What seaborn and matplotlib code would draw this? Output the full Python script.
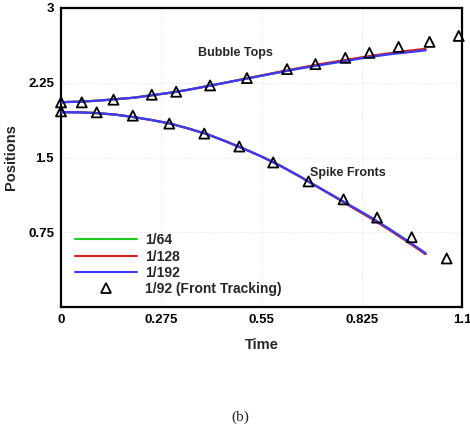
import matplotlib
matplotlib.use("Agg")
import matplotlib.pyplot as plt
from matplotlib.ticker import MultipleLocator, FixedLocator
from matplotlib.lines import Line2D
import numpy as np
import pandas as pd
import seaborn as sns

# ---- data -------------------------------------------------------------
time = [0.0, 0.05, 0.1, 0.15, 0.2, 0.25, 0.3, 0.35, 0.4, 0.45, 0.5,
        0.55, 0.6, 0.65, 0.7, 0.75, 0.8, 0.85, 0.9, 0.95, 1.0]

bubble_192 = [2.055, 2.06, 2.07, 2.085, 2.10, 2.125, 2.15, 2.18, 2.215, 2.25, 2.285,
              2.32, 2.355, 2.39, 2.42, 2.45, 2.48, 2.51, 2.535, 2.555, 2.575]
bubble_128 = [2.055, 2.06, 2.07, 2.085, 2.10, 2.125, 2.15, 2.18, 2.215, 2.25, 2.287,
              2.323, 2.36, 2.395, 2.43, 2.46, 2.49, 2.52, 2.545, 2.57, 2.59]
bubble_64 = [2.055, 2.06, 2.07, 2.085, 2.10, 2.125, 2.15, 2.18, 2.215, 2.25, 2.286,
             2.321, 2.357, 2.392, 2.425, 2.455, 2.485, 2.515, 2.54, 2.562, 2.582]

spike_192 = [1.955, 1.953, 1.945, 1.93, 1.905, 1.875, 1.84, 1.79, 1.735, 1.665, 1.59,
             1.51, 1.42, 1.32, 1.215, 1.11, 1.005, 0.90, 0.785, 0.665, 0.54]
spike_128 = [1.955, 1.953, 1.945, 1.93, 1.905, 1.875, 1.84, 1.79, 1.735, 1.665, 1.59,
             1.51, 1.42, 1.32, 1.213, 1.106, 0.997, 0.89, 0.775, 0.655, 0.53]
spike_64 = [1.955, 1.953, 1.945, 1.93, 1.905, 1.875, 1.84, 1.79, 1.735, 1.665, 1.59,
            1.51, 1.42, 1.32, 1.214, 1.108, 1.0, 0.895, 0.78, 0.66, 0.535]

ft_bubble_time = [0.0, 0.057, 0.144, 0.249, 0.316, 0.409, 0.510, 0.620, 0.698,
                  0.780, 0.846, 0.926, 1.011, 1.091]
ft_bubble_pos = [2.053, 2.053, 2.08, 2.13, 2.16, 2.223, 2.297, 2.387, 2.437,
                 2.50, 2.55, 2.61, 2.66, 2.72]

ft_spike_time = [0.0, 0.098, 0.197, 0.297, 0.393, 0.489, 0.582, 0.679, 0.775,
                 0.867, 0.962, 1.058]
ft_spike_pos = [1.963, 1.953, 1.92, 1.84, 1.74, 1.61, 1.45, 1.26, 1.08,
                0.897, 0.70, 0.487]

resolutions = ["1/64", "1/128", "1/192"]
colors = {"1/64": "#1fcc1f", "1/128": "#d02020", "1/192": "#3a3aff"}
ft_label = "1/92 (Front Tracking)"

x_ticks = [0, 0.275, 0.55, 0.825, 1.1]
x_tick_labels = ["0", "0.275", "0.55", "0.825", "1.1"]
y_ticks = [0.75, 1.5, 2.25, 3]
y_tick_labels = ["0.75", "1.5", "2.25", "3"]

# ---- long-form tables ---------------------------------------------------
bubble = {"1/64": bubble_64, "1/128": bubble_128, "1/192": bubble_192}
spike = {"1/64": spike_64, "1/128": spike_128, "1/192": spike_192}
rows = []
for res in resolutions:
    for front, table in (("bubble", bubble), ("spike", spike)):
        for t, p in zip(time, table[res]):
            rows.append({"Time": t, "Position": p, "Grid": res, "Front": front})
lines_df = pd.DataFrame(rows)

ft_df = pd.DataFrame({
    "Time": ft_bubble_time + ft_spike_time,
    "Position": ft_bubble_pos + ft_spike_pos,
    "Front": ["bubble"] * len(ft_bubble_time) + ["spike"] * len(ft_spike_time),
})

# ---- style --------------------------------------------------------------
sns.set_style("white")
plt.rcParams["font.family"] = ["Liberation Sans", "DejaVu Sans"]
plt.rcParams["font.weight"] = "bold"
plt.rcParams["axes.labelweight"] = "bold"

fig = plt.figure(figsize=(4.7, 4.34), dpi=100)
ax = fig.add_axes([61 / 470, 1 - 307 / 434, 401 / 470, 299 / 434])

# dotted grid at major ticks
for xv in x_ticks[1:-1]:
    ax.axvline(xv, color="#d8d8d8", lw=0.6, ls=(0, (1, 2)), zorder=0)
for yv in y_ticks[:-1]:
    ax.axhline(yv, color="#d8d8d8", lw=0.6, ls=(0, (1, 2)), zorder=0)

sns.lineplot(data=lines_df, x="Time", y="Position", hue="Grid", units="Front",
             estimator=None, sort=False, hue_order=resolutions, palette=colors,
             lw=1.6, legend=False, ax=ax, zorder=3)

sns.scatterplot(data=ft_df, x="Time", y="Position", marker="^", s=52,
                facecolors="none", edgecolor="black", linewidth=1.3,
                legend=False, ax=ax, zorder=4, clip_on=False)

ax.set_xlim(0, 1.1)
ax.set_ylim(0, 3)
ax.xaxis.set_major_locator(FixedLocator(x_ticks))
ax.set_xticklabels(x_tick_labels)
ax.yaxis.set_major_locator(FixedLocator(y_ticks))
ax.set_yticklabels(y_tick_labels)
ax.xaxis.set_minor_locator(MultipleLocator(0.055))
ax.yaxis.set_minor_locator(MultipleLocator(0.15))
ax.tick_params(which="both", direction="in", top=False, right=False,
               colors="black", width=1.3)
ax.tick_params(which="major", length=5, labelsize=9.5, pad=5)
ax.tick_params(which="minor", length=4)
for lab in ax.get_xticklabels() + ax.get_yticklabels():
    lab.set_fontweight("bold")

for sp in ax.spines.values():
    sp.set_visible(True)
    sp.set_color("black")
    sp.set_linewidth(1.6)

ax.set_xlabel("Time", fontsize=10.5, fontweight="bold", labelpad=9)
ax.set_ylabel("Positions", fontsize=10.5, fontweight="bold", labelpad=7)

ax.text(0.377, 2.547, "Bubble Tops", fontsize=9, fontweight="bold",
        ha="left", va="center")
ax.text(0.684, 1.34, "Spike Fronts", fontsize=9, fontweight="bold",
        ha="left", va="center")

handles = [Line2D([], [], color=colors[r], lw=1.5) for r in resolutions]
handles.append(Line2D([], [], ls="none", marker="^", markersize=7,
                      markerfacecolor="none", markeredgecolor="black",
                      markeredgewidth=1.3))
leg = ax.legend(handles, resolutions + [ft_label], loc="upper left",
                bbox_to_anchor=(0.02, 0.265), frameon=False, fontsize=10,
                handlelength=4.5, handletextpad=0.6, labelspacing=0.16,
                borderaxespad=0)
for txt in leg.get_texts():
    txt.set_fontweight("bold")

fig.text(240 / 470, 1 - 417 / 434, "(b)", fontsize=11, ha="center", va="center",
         family=["Liberation Serif", "DejaVu Serif"], fontweight="normal")

fig.savefig("out.png", dpi=100, facecolor="white")
